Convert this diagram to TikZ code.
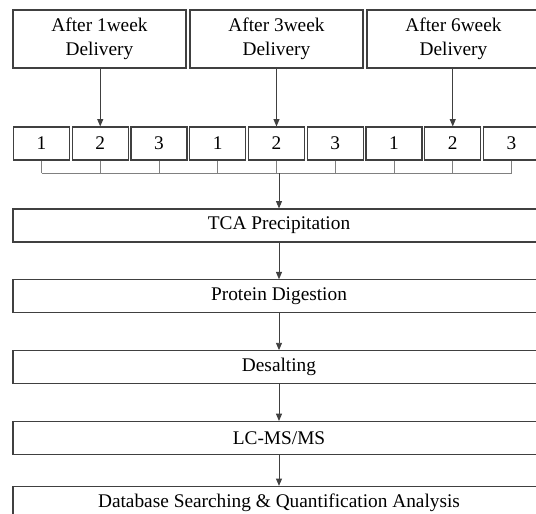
\documentclass[tikz,border=0pt]{standalone}
\usepackage{fontspec}
\setmainfont{Liberation Serif}
\usetikzlibrary{arrows.meta,positioning}
\tikzset{boxline/.style={draw=black!75,line width=0.9pt},linkline/.style={draw=black!50,line width=0.7pt}}

\begin{document}
\begin{tikzpicture}[x=0.75pt,y=-0.75pt,font=\fontsize{14.5}{18}\selectfont]

\tikzset{weekbox/.style={boxline,align=center,minimum width=129.75pt,minimum height=43.5pt,inner sep=0pt},
repbox/.style={boxline,minimum width=42pt,minimum height=24.75pt,inner sep=0pt},
stepbox/.style={boxline,minimum width=399pt,minimum height=24.75pt,inner sep=0pt},
arrowline/.style={draw=black!75,line width=0.7pt,-{Triangle[length=5.5pt,width=4.5pt]}}}

% Frame
\clip (0,0) rectangle (536,514);

% Deliveries
\node[weekbox] (week1) at (99.5,39) {After 1week\\Delivery};
\node[weekbox] (week3) at (276.5,39) {After 3week\\Delivery};
\node[weekbox] (week6) at (453.5,39) {After 6week\\Delivery};

% Replicates
\foreach \g [count=\i from 0] in {1,3,6} \foreach \r in {1,2,3} \node[repbox] (rep\g-\r) at ({41.5+58.75*(3*\i+\r-1)},143.5) {\r};
\foreach \g in {1,3,6} \draw[arrowline] (rep\g-2.north |- week\g.south) -- (rep\g-2.north);

% Steps
\node[stepbox] (tca) at (279,225.5) {TCA Precipitation};
\node[stepbox,below=27.5pt of tca] (digest) {Protein Digestion};
\node[stepbox,below=27.5pt of digest] (desalt) {Desalting};
\node[stepbox,below=27.5pt of desalt] (lcms) {LC-MS/MS};
\node[stepbox,below=23pt of lcms] (dbsearch) {Database Searching \& Quantification Analysis};

% Pooling
\coordinate (bracket) at (0,173);
\foreach \g in {1,3,6} \foreach \r in {1,2,3} \draw[linkline] (rep\g-\r.south) -- (rep\g-\r.south |- bracket);
\draw[linkline] (rep1-1.south |- bracket) -- (rep6-3.south |- bracket);
\draw[arrowline] (tca.north |- bracket) -- (tca);
\draw[arrowline] (tca) -- (digest);
\draw[arrowline] (digest) -- (desalt);
\draw[arrowline] (desalt) -- (lcms);
\draw[arrowline] (lcms) -- (dbsearch);

\end{tikzpicture}
\end{document}
